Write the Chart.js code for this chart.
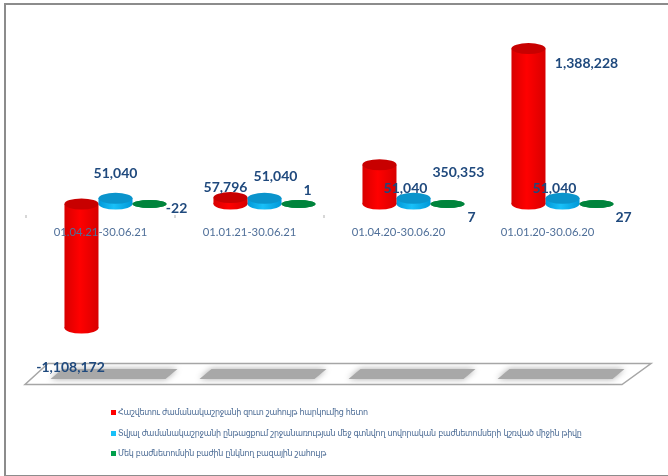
<!DOCTYPE html>
<html>
<head>
<meta charset="utf-8">
<script src="https://cdn.jsdelivr.net/npm/chart.js@4"></script>
<style>
	html, body { margin: 0; padding: 0; background: #fff; overflow: hidden; }
	#wrap { position: relative; width: 668px; height: 476px; filter: blur(0.35px); }
	#frame { position: absolute; left: 4px; top: 3px; width: 680px; height: 470px; border: 2px solid #8c8c8c; }
	canvas { position: absolute; left: 0; top: 0; }
	.legend-row { position: absolute; left: 111px; white-space: nowrap; font: 8px "DejaVu Sans", sans-serif; letter-spacing: -0.29px; color: #4a6a94; }
	.legend-row i { display: inline-block; width: 5px; height: 5px; margin-right: 2px; vertical-align: 0; }
</style>
</head>
<body>
<div id="wrap">
	<div id="frame"></div>
	<canvas id="chart" width="668" height="476"></canvas>
	<div id="legend"></div>
</div>
<script>
const periods = ['01.04.21-30.06.21', '01.01.21-30.06.21', '01.04.20-30.06.20', '01.01.20-30.06.20']
const net_profit = [-1108172, 57796, 350353, 1388228]
const avg_shares = [51040, 51040, 51040, 51040]
const eps = [-22, 1, 7, 27]
const series_names = [
	'Հաշվետու ժամանակաշրջանի զուտ շահույթ հարկումից հետո',
	'Տվյալ ժամանակաշրջանի ընթացքում շրջանառության մեջ գտնվող սովորական բաժնետոմսերի կշռված միջին թիվը',
	'Մեկ բաժնետոմսին բաժին ընկնող բազային շահույթ'
]

// bar colours: edge, centre, cap
const series_colors = [
	['#d80000', '#ff0000', '#c80000'],
	['#0098d8', '#19c0f8', '#0a94cc'],
	['#00843c', '#00a04c', '#00843c']
]
const cap_radius = [5.5, 5.5, 4]
const legend_y = [408, 429, 449]

// labels were placed by hand in the original, offsets from the end of each bar
const label_shift = [
	[[-11, 39], [-5, -10], [79, 8], [58, 15]],
	[[0, -25], [11, -22], [-8, -10], [-8, -10]],
	[[27, 4], [9, -14], [24, 13], [27, 13]]
]

const DEPTH = 15 // bars sit behind the axis, shifted right
const GROUP = 0.685

function bar_gradient(c) {
	const colors = series_colors[c.datasetIndex]
	if (c.dataIndex === undefined) return colors[1]
	const x = c.chart.scales.x
	const w = (x.getPixelForValue(1) - x.getPixelForValue(0)) * GROUP / 3
	const cx = x.getPixelForValue(c.dataIndex) + (c.datasetIndex - 1) * w
	// scales have no size yet on the first pass
	if (!isFinite(cx) || !isFinite(w)) return colors[1]
	const g = c.chart.ctx.createLinearGradient(cx - w / 2, 0, cx + w / 2, 0)
	g.addColorStop(0, colors[0])
	g.addColorStop(0.45, colors[1])
	g.addColorStop(1, colors[0])
	return g
}

function ellipse(ctx, x, y, rx, ry, fill) {
	ctx.fillStyle = fill
	ctx.beginPath()
	ctx.ellipse(x, y, rx, ry, 0, 0, Math.PI * 2)
	ctx.fill()
}

const floor_plugin = {
	id: 'floor',
	beforeDatasetsDraw(chart) {
		const ctx = chart.ctx
		const x = chart.scales.x
		const step = x.getPixelForValue(1) - x.getPixelForValue(0)
		ctx.save()
		// floor
		ctx.strokeStyle = '#a6a6a6'
		ctx.lineWidth = 1.5
		ctx.beginPath()
		ctx.moveTo(25, 384.5)
		ctx.lineTo(622, 384.5)
		ctx.lineTo(651, 363.5)
		ctx.lineTo(48, 363.5)
		ctx.closePath()
		ctx.stroke()
		// shadows
		ctx.fillStyle = '#a8a8a8'
		ctx.shadowColor = '#a8a8a8'
		ctx.shadowBlur = 6
		periods.forEach((p, i) => {
			const x0 = x.getPixelForValue(i) - 65
			ctx.beginPath()
			ctx.moveTo(x0, 379)
			ctx.lineTo(x0 + 12, 369)
			ctx.lineTo(x0 + 127, 369)
			ctx.lineTo(x0 + 115, 379)
			ctx.closePath()
			ctx.fill()
		})
		ctx.shadowBlur = 0
		// axis ticks
		ctx.fillStyle = '#b0b0b0'
		for (let i = 0; i <= periods.length; i++) {
			ctx.fillRect(x.getPixelForValue(0) - step / 2 - DEPTH + i * step - 0.5, 215, 1, 3)
		}
		ctx.restore()
	},
	afterDatasetsDraw(chart) {
		const ctx = chart.ctx
		chart.data.datasets.forEach((ds, d) => {
			chart.getDatasetMeta(d).data.forEach((bar, i) => {
				const top = Math.min(bar.y, bar.base)
				const bottom = Math.max(bar.y, bar.base)
				const rx = bar.width / 2
				ellipse(ctx, bar.x, bottom, rx, cap_radius[d], bar_gradient({chart: chart, datasetIndex: d, dataIndex: i}))
				ellipse(ctx, bar.x, top, rx, cap_radius[d], series_colors[d][2])
			})
		})
	},
	afterDraw(chart) {
		const ctx = chart.ctx
		ctx.save()
		ctx.font = 'bold 14px Lato, sans-serif'
		ctx.fillStyle = '#1f497d'
		ctx.textAlign = 'center'
		ctx.textBaseline = 'middle'
		chart.data.datasets.forEach((ds, d) => {
			chart.getDatasetMeta(d).data.forEach((bar, i) => {
				const shift = label_shift[d][i]
				ctx.fillText(ds.data[i].toLocaleString('en-US'), bar.x + shift[0], bar.y + shift[1])
			})
		})
		ctx.restore()
	}
}

const bar_style = {
	backgroundColor: bar_gradient,
	borderWidth: 0,
	categoryPercentage: GROUP,
	barPercentage: 1
}

new Chart(document.getElementById('chart'), {
	type: 'bar',
	data: {
		labels: periods,
		datasets: [
			{ label: series_names[0], data: net_profit, ...bar_style },
			{ label: series_names[1], data: avg_shares, ...bar_style },
			{ label: series_names[2], data: eps, ...bar_style }
		]
	},
	options: {
		responsive: false,
		animation: false,
		layout: { padding: { left: 41, right: 31, top: 36, bottom: 104 } },
		plugins: {
			legend: { display: false },
			tooltip: { enabled: false }
		},
		scales: {
			x: {
				position: { y: 0 },
				grid: { display: false },
				border: { display: false },
				ticks: {
					z: 1,
					maxRotation: 0,
					labelOffset: -DEPTH,
					padding: 14,
					color: '#4f6f99',
					font: { family: 'Lato, sans-serif', size: 11.3 }
				}
			},
			y: { display: false, min: -1500000, max: 1500000 }
		}
	},
	plugins: [floor_plugin]
})

// legend
const legend = document.getElementById('legend')
series_names.forEach((name, i) => {
	legend.innerHTML += `<div class="legend-row" style="top:${legend_y[i]}px"><i style="background:${series_colors[i][1]}"></i>${name}</div>`
})
</script>
</body>
</html>
